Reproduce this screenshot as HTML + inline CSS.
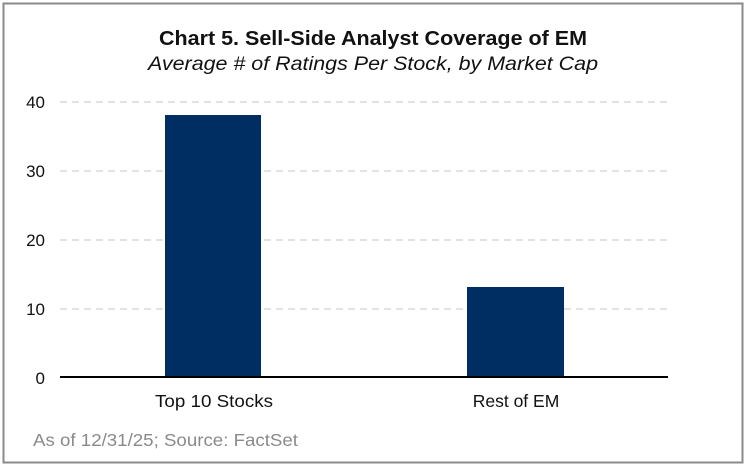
<!DOCTYPE html>
<html><head><style>
body{margin:0;background:#fff;}
svg{display:block;}
</style></head><body>
<svg width="747" height="467" xmlns="http://www.w3.org/2000/svg" font-family="Liberation Sans, sans-serif">
<rect x="0" y="0" width="747" height="467" fill="#fff"/>
<rect x="3.5" y="3.5" width="739" height="459" fill="#fff" stroke="#8a8a8a" stroke-width="2"/>
<text x="373" y="45" text-anchor="middle" font-size="20" font-weight="bold" fill="#111" textLength="428" lengthAdjust="spacingAndGlyphs">Chart 5. Sell-Side Analyst Coverage of EM</text>
<text x="373" y="70" text-anchor="middle" font-size="19" font-style="italic" fill="#111" textLength="450" lengthAdjust="spacingAndGlyphs">Average # of Ratings Per Stock, by Market Cap</text>
<g stroke="#d9d9d9" stroke-width="1.5" stroke-dasharray="7,5">
<line x1="60" y1="102" x2="668" y2="102"/>
<line x1="60" y1="171" x2="668" y2="171"/>
<line x1="60" y1="240" x2="668" y2="240"/>
<line x1="60" y1="309" x2="668" y2="309"/>
</g>
<g font-size="17" fill="#111" text-anchor="end">
<text x="45" y="108">40</text>
<text x="45" y="177">30</text>
<text x="45" y="246">20</text>
<text x="45" y="315">10</text>
<text x="45" y="384">0</text>
</g>
<rect x="165" y="115" width="96" height="262" fill="#002d62"/>
<rect x="467" y="287" width="97" height="90" fill="#002d62"/>
<line x1="60" y1="377" x2="668" y2="377" stroke="#000" stroke-width="2"/>
<g font-size="17.5" fill="#111" text-anchor="middle">
<text x="214" y="407" textLength="118" lengthAdjust="spacingAndGlyphs">Top 10 Stocks</text>
<text x="516" y="407">Rest of EM</text>
</g>
<text x="33" y="446" font-size="17.5" fill="#8a8a8a" textLength="265" lengthAdjust="spacingAndGlyphs">As of 12/31/25; Source: FactSet</text>
</svg>
</body></html>
